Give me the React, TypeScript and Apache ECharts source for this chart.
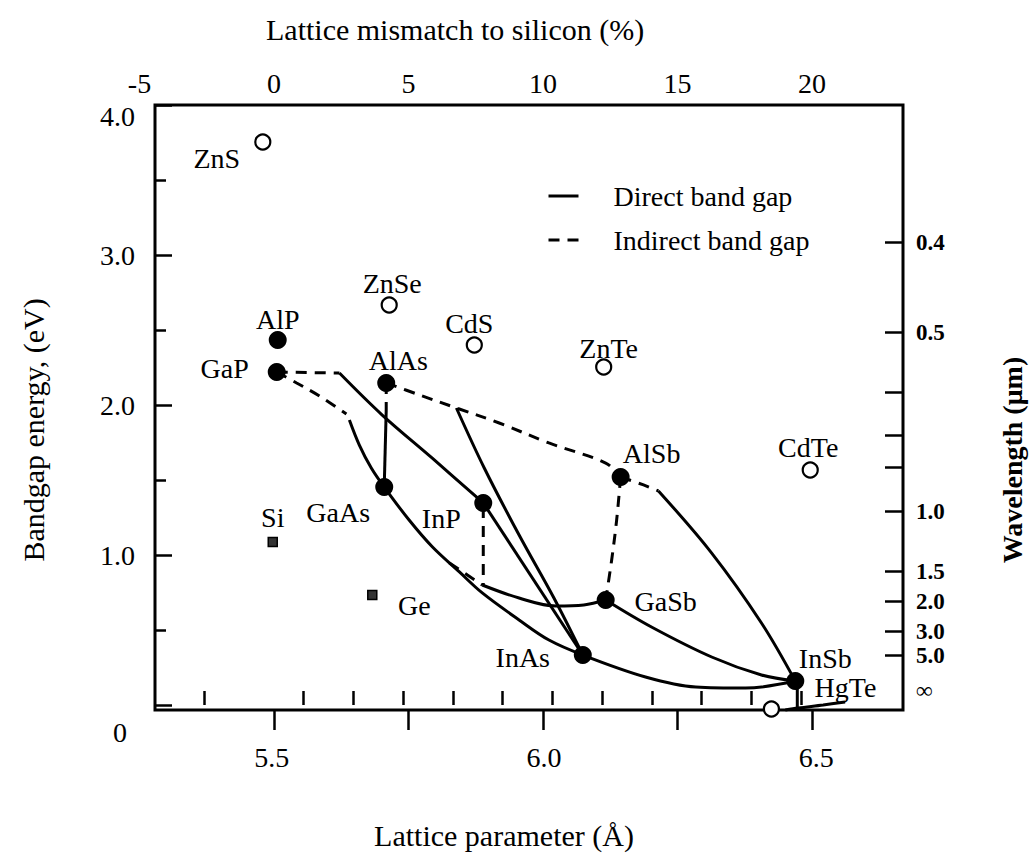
import React, { useEffect, useRef } from 'react';
import * as echarts from 'echarts';

const INK = '#000000';
const FONT = '"Liberation Serif", "Times New Roman", "DejaVu Serif", serif';

// ---- axis ticks / labels ----
const latticeTicks = [5.3, 5.5, 5.6, 5.7, 5.8, 5.9, 6.0, 6.1, 6.2, 6.3, 6.4, 6.5];
const latticeLabels = [5.5, 6.0, 6.5];
const mismatchTicks = [0, 5, 10, 15, 20];
const mismatchLabels = [-5, 0, 5, 10, 15, 20];
const energyMajor = [0, 1, 2, 3, 4];
const energyMinor = [0.5, 1.5, 2.5, 3.5];
const wavelengthTicks = [0.4, 0.5, 0.6, 0.7, 0.8, 1.0, 1.5, 2.0, 3.0, 5.0];
const wavelengthLabels = [0.4, 0.5, 1.0, 1.5, 2.0, 3.0, 5.0, Infinity];
const HC = 1.24; // eV·µm

// ---- compounds: [lattice parameter (Å), bandgap (eV)] ----
const filledNames = ['AlP', 'GaP', 'AlAs', 'AlSb', 'GaAs', 'InP', 'GaSb', 'InAs', 'InSb'];
const filledValues = [
  [5.448, 2.433], [5.446, 2.22], [5.666, 2.147], [6.137, 1.52], [5.662, 1.453],
  [5.861, 1.347], [6.107, 0.70], [6.061, 0.333], [6.488, 0.16],
];
const openNames = ['ZnS', 'ZnSe', 'CdS', 'ZnTe', 'CdTe', 'HgTe'];
const openValues = [
  [5.418, 3.753], [5.672, 2.667], [5.843, 2.40], [6.103, 2.253], [6.518, 1.567], [6.44, -0.027],
];
const squareNames = ['Si', 'Ge'];
const squareValues = [[5.438, 1.087], [5.638, 0.733]];

// ---- alloy curves ----
const GaP_InP_ind = [[5.446, 2.22], [5.572, 2.213]];
const GaP_InP_dir = [[5.572, 2.213], [5.658, 1.933], [5.758, 1.647], [5.861, 1.347]];
const GaP_GaAs_ind = [[5.446, 2.22], [5.486, 2.147], [5.532, 2.06], [5.586, 1.94]];
const GaP_GaAs_dir = [[5.592, 1.9], [5.612, 1.733], [5.636, 1.58], [5.662, 1.453]];
const AlAs_GaAs_ind = [[5.666, 2.147], [5.666, 1.967]];
const AlAs_GaAs_dir = [[5.666, 1.967], [5.662, 1.453]];
const AlAs_AlSb_ind = [[5.666, 2.147], [5.733, 2.067], [5.807, 1.98], [5.893, 1.88], [5.993, 1.747], [6.107, 1.613], [6.137, 1.52]];
const AlSb_InSb_ind = [[6.137, 1.52], [6.183, 1.467], [6.213, 1.427]];
const AlSb_InSb_dir = [[6.213, 1.427], [6.32, 1.013], [6.42, 0.547], [6.488, 0.16]];
const AlAs_InAs_dir = [[5.807, 1.98], [5.863, 1.58], [5.933, 1.133], [6.003, 0.713], [6.061, 0.333]];
const InP_InAs_dir = [[5.861, 1.347], [6.061, 0.333]];
const GaAs_InAs_dir = [[5.662, 1.453], [5.712, 1.233], [5.759, 1.053], [5.813, 0.887], [5.859, 0.747], [5.933, 0.567], [5.993, 0.433], [6.061, 0.333]];
const GaAs_GaSb_ind = [[5.793, 0.947], [5.859, 0.80]];
const GaAs_GaSb_dir = [[5.859, 0.80], [5.933, 0.713], [6.007, 0.66], [6.063, 0.667], [6.107, 0.70]];
const InP_vert_ind = [[5.861, 1.32], [5.861, 0.80]];
const AlSb_GaSb_ind = [[6.137, 1.52], [6.129, 1.233], [6.119, 0.967], [6.107, 0.70]];
const GaSb_InSb_dir = [[6.107, 0.70], [6.199, 0.52], [6.32, 0.32], [6.42, 0.20], [6.488, 0.16]];
const InAs_InSb_dir = [[6.061, 0.333], [6.187, 0.187], [6.288, 0.12], [6.388, 0.113], [6.488, 0.16]];
const InSb_HgTe_dir = [[6.492, 0.16], [6.492, -0.02]];
const HgTe_stub_dir = [[6.468, -0.033], [6.494, -0.02], [6.544, 0.0], [6.588, 0.02]];

const directCurves = [GaP_InP_dir, GaP_GaAs_dir, AlAs_GaAs_dir, AlSb_InSb_dir, AlAs_InAs_dir, InP_InAs_dir,
  GaAs_InAs_dir, GaAs_GaSb_dir, GaSb_InSb_dir, InAs_InSb_dir, InSb_HgTe_dir, HgTe_stub_dir];
const indirectCurves = [GaP_InP_ind, GaP_GaAs_ind, AlAs_GaAs_ind, AlAs_AlSb_ind, AlSb_InSb_ind, GaAs_GaSb_ind,
  InP_vert_ind, AlSb_GaSb_ind];

// label placement (pixels from the marker centre) — styling, kept apart from data
const labelOffsets: Record<string, number[]> = {
  ZnS: [-46, 16], AlP: [0, -21], GaP: [-52, -4], ZnSe: [3, -21], AlAs: [12, -22], CdS: [-5, -22],
  ZnTe: [5, -19], AlSb: [31, -24], CdTe: [-2, -22], Si: [0, -24], Ge: [42, 10], GaAs: [-46, 25],
  InP: [-42, 16], GaSb: [60, 1], InAs: [-60, 2], InSb: [30, -23], HgTe: [74, -22],
};

const labelStyle = { fontSize: 28, fontFamily: FONT, color: INK };

export default function App() {
  const ref = useRef<HTMLDivElement>(null);
  useEffect(() => {
    if (!ref.current) return;
    const chart = echarts.init(ref.current, undefined, { renderer: 'svg' });

    const pts = (names: string[], values: number[][]) =>
      names.map((n, i) => ({ name: n, value: values[i], label: { offset: labelOffsets[n] } }));

    const mkLine = (data: number[][], dashed: boolean) => ({
      type: 'line',
      name: dashed ? 'Indirect band gap' : 'Direct band gap',
      data,
      xAxisIndex: 0,
      yAxisIndex: 0,
      symbol: 'none',
      smooth: data.length > 2 ? 0.35 : false,
      clip: false,
      silent: true,
      z: 2,
      itemStyle: { color: INK },
      lineStyle: { color: INK, width: 3, type: dashed ? [11, 8] : 'solid' },
    });

    const scatterLabel = { show: true, position: 'inside', formatter: '{b}', opacity: 1, ...labelStyle };

    const option: any = {
      animation: false,
      backgroundColor: '#ffffff',
      color: [INK],
      title: {
        text: 'Lattice mismatch to silicon (%)',
        left: 266, top: 14, padding: 0,
        textStyle: { fontSize: 30, fontWeight: 'normal', fontFamily: FONT, color: INK },
      },
      legend: {
        data: ['Direct band gap', 'Indirect band gap'],
        orient: 'vertical', left: 542, top: 177,
        itemWidth: 30, itemHeight: 14, itemGap: 16,
        selectedMode: false,
        itemStyle: { opacity: 0, borderWidth: 0 },
        lineStyle: { width: 3 },
        textStyle: { fontSize: 28, fontFamily: FONT, color: INK, padding: [0, 0, 0, 30] },
      },
      grid: [
        { left: 155, top: 105, width: 750, height: 605, show: true, borderColor: INK, borderWidth: 3, backgroundColor: 'transparent' },
        { left: 139.5, top: 105, width: 807, height: 605, show: false },
      ],
      xAxis: [
        {
          type: 'value', gridIndex: 0, position: 'bottom', min: 5.2014, max: 6.7044,
          axisLine: { show: false }, splitLine: { show: false }, axisLabel: { show: false },
          axisTick: { show: true, inside: true, length: 14, customValues: latticeTicks, lineStyle: { color: INK, width: 2.5 } },
        },
        {
          type: 'value', gridIndex: 0, position: 'bottom', min: 5.2857, max: 6.6593,
          axisLine: { show: false }, splitLine: { show: false }, axisTick: { show: false },
          axisLabel: { show: true, customValues: latticeLabels, formatter: (v: number) => v.toFixed(1), margin: 33, ...labelStyle },
          name: 'Lattice parameter (Å)', nameLocation: 'middle', nameGap: 110,
          nameTextStyle: { fontSize: 30, fontFamily: FONT, color: INK, padding: [0, 50, 0, 0] },
        },
        {
          type: 'value', gridIndex: 1, position: 'top', min: -5, max: 25,
          axisLine: { show: false }, splitLine: { show: false },
          axisTick: { show: true, inside: true, length: 20, customValues: mismatchTicks, lineStyle: { color: INK, width: 2.5 } },
          axisLabel: { show: true, customValues: mismatchLabels, margin: 8, ...labelStyle },
        },
      ],
      yAxis: [
        {
          type: 'value', gridIndex: 0, position: 'left', min: -1 / 30, max: 4,
          axisLine: { show: false }, splitLine: { show: false },
          axisTick: { show: true, inside: true, length: 17, customValues: energyMajor, lineStyle: { color: INK, width: 2.5 } },
          axisLabel: {
            show: true, customValues: energyMajor, margin: 20, ...labelStyle,
            formatter: (v: number) => (v === 0 ? '{zero|0}' : v === 4 ? '{top|4.0}' : v.toFixed(1)),
            rich: {
              zero: { padding: [54, 8, 0, 0], ...labelStyle },
              top: { padding: [22, 0, 0, 0], ...labelStyle },
            },
          },
          name: 'Bandgap energy, (eV)', nameLocation: 'middle', nameRotate: 90, nameGap: 107,
          nameTextStyle: { fontSize: 30, fontFamily: FONT, color: INK, padding: [0, 45, 0, 0] },
        },
        {
          type: 'value', gridIndex: 0, position: 'left', min: -1 / 30, max: 4,
          axisLine: { show: false }, splitLine: { show: false }, axisLabel: { show: false },
          axisTick: { show: true, inside: true, length: 11, customValues: energyMinor, lineStyle: { color: INK, width: 2.5 } },
        },
        {
          type: 'value', gridIndex: 0, position: 'right', min: -0.1314, max: 4.0526,
          axisLine: { show: false }, splitLine: { show: false },
          axisTick: {
            show: true, inside: true, length: 18,
            customValues: wavelengthTicks.map((l) => HC / l), lineStyle: { color: INK, width: 2.5 },
          },
          axisLabel: {
            show: true, margin: 13, fontSize: 23, fontFamily: FONT, color: INK, fontWeight: 'bold',
            customValues: wavelengthLabels.map((l) => (l === Infinity ? 0 : HC / l)),
            formatter: (v: number) => (v < 1e-9 ? '∞' : (HC / v).toFixed(1)),
          },
          name: 'Wavelength (μm)', nameLocation: 'middle', nameRotate: 90, nameGap: 95,
          nameTextStyle: { fontSize: 28, fontWeight: 'bold', fontFamily: FONT, color: INK, padding: [0, 105, 0, 0] },
        },
        { type: 'value', gridIndex: 1, show: false, min: 0, max: 1 },
      ],
      series: [
        ...directCurves.map((d) => mkLine(d, false)),
        ...indirectCurves.map((d) => mkLine(d, true)),
        {
          type: 'scatter', name: 'binary', xAxisIndex: 0, yAxisIndex: 0, z: 5, clip: false,
          symbol: 'circle', symbolSize: 18, itemStyle: { color: INK, opacity: 1 },
          label: scatterLabel, data: pts(filledNames, filledValues),
        },
        {
          type: 'scatter', name: 'II-VI', xAxisIndex: 0, yAxisIndex: 0, z: 5, clip: false,
          symbol: 'circle', symbolSize: 15, itemStyle: { color: '#ffffff', borderColor: INK, borderWidth: 2.2, opacity: 1 },
          label: scatterLabel, data: pts(openNames, openValues),
        },
        {
          type: 'scatter', name: 'elemental', xAxisIndex: 0, yAxisIndex: 0, z: 5, clip: false,
          symbol: 'rect', symbolSize: 9, itemStyle: { color: '#333333', borderColor: INK, borderWidth: 1.5, opacity: 1 },
          label: scatterLabel, data: pts(squareNames, squareValues),
        },
      ],
    };
    chart.setOption(option);
    return () => chart.dispose();
  }, []);
  return <div ref={ref} style={{ position: 'absolute', left: 0, top: 0, width: 1034, height: 863 }} />;
}
